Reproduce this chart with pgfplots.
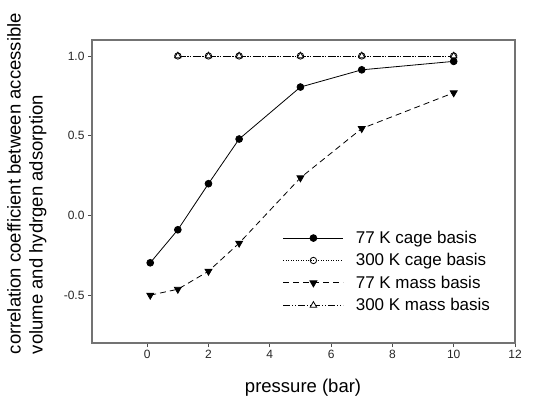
\documentclass[border=0pt]{standalone}
\usepackage{fontspec}
\setmainfont{Liberation Sans}
\usepackage{pgfplots}
\pgfplotsset{compat=1.18}
\begin{document}
\begin{tikzpicture}
\begin{axis}[
  scale only axis, width=423pt, height=303pt,
  xmin=-1.8, xmax=12, ymin=-0.8, ymax=1.1,
  xtick={0,2,...,12}, ytick={-0.5,0,0.5,1},
  yticklabel style={/pgf/number format/.cd,fixed,fixed zerofill,precision=1},
  /pgf/number format/assume math mode=true,
  tick label style={font=\fontsize{12}{14}\selectfont, color=black!85},
  tick align=outside, tick pos=left,
  major tick length=4pt,
  axis line style={draw=black!55, line width=1.3pt},
  every tick/.style={draw=black!70, line width=0.8pt},
  xlabel={pressure (bar)},
  xlabel style={font=\fontsize{18.5}{22}\selectfont, at={(axis description cs:0.499,-0.149)}, anchor=center},
  ylabel={correlation coefficient between accessible\\volume and hydrgen adsorption},
  ylabel style={font=\fontsize{18.5}{22}\selectfont, align=left, at={(axis description cs:-0.154,0.526)}, anchor=center, rotate=0},
  legend style={draw=none, fill=none, at={(axis description cs:0.444,0.383)}, anchor=north west,
    font=\fontsize{17}{20}\selectfont, row sep=4.6pt,
    /tikz/every odd column/.append style={column sep=10pt}},
  legend cell align=left,
  legend image code/.code={\draw[#1, mark repeat=2, mark phase=2] plot coordinates {(0pt,0pt) (30pt,0pt) (60pt,0pt)};},
]
\addplot[black, line width=0.8pt, mark=*, mark size=3.4pt, mark options={solid, fill=black}]
  coordinates {(0.1,-0.297) (1,-0.09) (2,0.199) (3,0.479) (5,0.805) (7,0.913) (10,0.966)};
\addlegendentry{77 K cage basis}
\addplot[black, line width=0.8pt, dash pattern=on 1pt off 1.5pt, mark=o, mark size=3.2pt, mark options={solid, fill=white}]
  coordinates {(1,1.0) (2,1.0) (3,1.0) (5,1.0) (7,1.0) (10,1.0)};
\addlegendentry{300 K cage basis}
\addplot[black, line width=0.8pt, dash pattern=on 6pt off 4pt, mark=triangle*, mark size=4pt, mark options={solid, fill=black, rotate=180}]
  coordinates {(0.1,-0.5) (1,-0.463) (2,-0.35) (3,-0.174) (5,0.236) (7,0.545) (10,0.769)};
\addlegendentry{77 K mass basis}
\addplot[black, line width=0.8pt, dash pattern=on 7pt off 2pt on 1pt off 2pt on 1pt off 2pt, mark=triangle*, mark size=3.7pt, mark options={solid, fill=white}]
  coordinates {(1,1.0) (2,1.0) (3,1.0) (5,1.0) (7,1.0) (10,1.0)};
\addlegendentry{300 K mass basis}
\coordinate (bl) at (rel axis cs:0,0);
\coordinate (tr) at (rel axis cs:1,1);
\end{axis}
\pgfresetboundingbox
\path ([shift={(-92pt,-61pt)}]bl) rectangle ([shift={(28pt,40pt)}]tr);
\end{tikzpicture}
\end{document}
